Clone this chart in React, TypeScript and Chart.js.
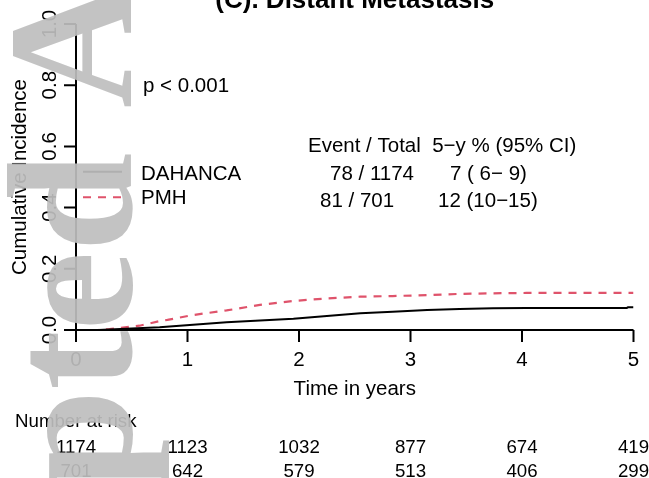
import { useEffect, useRef } from "react";
import { Chart, registerables } from "chart.js";

Chart.register(...registerables);

// Cumulative incidence of distant metastasis (years since treatment)
const dahancaTime = [0, 0.2, 0.3, 0.75, 1.05, 1.35, 1.65, 1.95, 2.25, 2.55, 2.84, 3.15, 3.44, 3.74, 4.04, 4.4, 4.94, 4.95, 5.0];
const dahancaCif = [0, 0, 0.002, 0.009, 0.017, 0.025, 0.031, 0.037, 0.046, 0.055, 0.06, 0.065, 0.069, 0.071, 0.072, 0.072, 0.072, 0.074, 0.074];
const pmhTime = [0, 0.2, 0.3, 0.57, 0.75, 0.82, 1.05, 1.35, 1.65, 1.95, 2.25, 2.55, 2.84, 3.15, 3.44, 3.74, 4.04, 5.0];
const pmhCif = [0, 0, 0.003, 0.014, 0.029, 0.033, 0.049, 0.064, 0.082, 0.095, 0.103, 0.109, 0.111, 0.114, 0.118, 0.12, 0.121, 0.121];

const xTicks = [0, 1, 2, 3, 4, 5];
const yTicks = [0, 0.2, 0.4, 0.6, 0.8, 1.0];
const yTickLabels = ["0.0", "0.2", "0.4", "0.6", "0.8", "1.0"];

const groups = ["DAHANCA", "PMH"];
const eventsTotal = ["78 / 1174", "81 / 701"];
const fiveYear = ["7 ( 6\u2212 9)", "12 (10\u221215)"];
const riskDahanca = [1174, 1123, 1032, 877, 674, 419];
const riskPmh = [701, 642, 579, 513, 406, 299];

const RED = "#DF536B";
const SANS = "'Liberation Sans', Arial, Helvetica, sans-serif";
const F = 20.5;

const annotations = {
  id: "annotations",
  afterDraw(chart: Chart) {
    const ctx = chart.ctx;
    const xs = chart.scales.x;
    const ys = chart.scales.y;
    const x0 = xs.getPixelForValue(0);
    const x5 = xs.getPixelForValue(5);
    const y0 = ys.getPixelForValue(0);
    const y1 = ys.getPixelForValue(1);
    ctx.save();
    ctx.strokeStyle = "#000";
    ctx.fillStyle = "#000";
    ctx.lineWidth = 2;
    ctx.lineCap = "butt";

    // axes
    ctx.beginPath();
    ctx.moveTo(x0, y0);
    ctx.lineTo(x5, y0);
    ctx.moveTo(x0, y0);
    ctx.lineTo(x0, y1);
    xTicks.forEach((t) => {
      const px = xs.getPixelForValue(t);
      ctx.moveTo(px, y0);
      ctx.lineTo(px, y0 + 12);
    });
    yTicks.forEach((t) => {
      const py = ys.getPixelForValue(t);
      ctx.moveTo(x0, py);
      ctx.lineTo(x0 - 12, py);
    });
    ctx.stroke();

    ctx.font = `${F}px ${SANS}`;
    ctx.textAlign = "center";
    ctx.textBaseline = "alphabetic";
    xTicks.forEach((t) => {
      ctx.fillText(String(t), xs.getPixelForValue(t), 366);
    });
    yTicks.forEach((t, i) => {
      ctx.save();
      ctx.translate(55.5, ys.getPixelForValue(t));
      ctx.rotate(-Math.PI / 2);
      ctx.fillText(yTickLabels[i], 0, 0);
      ctx.restore();
    });
    ctx.save();
    ctx.translate(25.5, (y0 + y1) / 2);
    ctx.rotate(-Math.PI / 2);
    ctx.fillText("Cumulative Incidence", 0, 0);
    ctx.restore();
    ctx.fillText("Time in years", (x0 + x5) / 2, 395);

    // title
    ctx.font = `bold 26px ${SANS}`;
    ctx.fillText("(C). Distant Metastasis", (x0 + x5) / 2, 7.5);

    // p-value, legend and summary table
    ctx.font = `${F}px ${SANS}`;
    ctx.textAlign = "left";
    ctx.fillText("p < 0.001", 143, 91.7);
    ctx.fillText(groups[0], 141, 180);
    ctx.fillText(groups[1], 141, 204.3);
    ctx.beginPath();
    ctx.moveTo(83, 171.7);
    ctx.lineTo(122, 171.7);
    ctx.stroke();
    ctx.save();
    ctx.strokeStyle = RED;
    ctx.setLineDash([8, 7]);
    ctx.beginPath();
    ctx.moveTo(83, 197.3);
    ctx.lineTo(122, 197.3);
    ctx.stroke();
    ctx.restore();

    ctx.fillText("Event / Total  5\u2212y % (95% CI)", 308, 152.3);
    ctx.fillText(eventsTotal[0], 330, 180);
    ctx.fillText(fiveYear[0], 450, 180);
    ctx.fillText(eventsTotal[1], 320, 206.7);
    ctx.fillText(fiveYear[1], 438, 206.7);

    // numbers at risk
    ctx.font = `18.7px ${SANS}`;
    ctx.fillText("Number at risk", 15, 427);
    ctx.textAlign = "center";
    xTicks.forEach((t, i) => {
      const px = xs.getPixelForValue(t);
      ctx.fillText(String(riskDahanca[i]), px, 453);
      ctx.fillText(String(riskPmh[i]), px, 477);
    });

    // page watermark
    ctx.font = "bold 178px 'Liberation Serif', 'Times New Roman', serif";
    ctx.textAlign = "left";
    ctx.fillStyle = "rgba(190,190,190,0.92)";
    ctx.filter = "blur(0.7px)";
    const lead = ctx.measureText("Accepted ").width;
    ctx.translate(131, 108 + lead);
    ctx.rotate(-Math.PI / 2);
    ctx.fillText("Accepted Article", 0, 0);
    ctx.restore();
  },
};

export default function App() {
  const ref = useRef<HTMLCanvasElement>(null);
  useEffect(() => {
    document.body.style.margin = "0";
    const canvas = ref.current!;
    const chart = new Chart(canvas, {
      type: "line",
      data: {
        datasets: [
          {
            label: groups[0],
            data: dahancaTime.map((t, i) => ({ x: t, y: dahancaCif[i] })),
            borderColor: "#000",
            borderWidth: 2,
            pointRadius: 0,
            tension: 0,
          },
          {
            label: groups[1],
            data: pmhTime.map((t, i) => ({ x: t, y: pmhCif[i] })),
            borderColor: RED,
            borderWidth: 2.2,
            borderDash: [8, 7],
            pointRadius: 0,
            tension: 0,
          },
        ],
      },
      options: {
        responsive: false,
        animation: false,
        devicePixelRatio: 1,
        layout: { padding: { left: 76, right: 15.5, top: 24, bottom: 148 } },
        scales: {
          x: { type: "linear", min: 0, max: 5, display: false },
          y: { type: "linear", min: 0, max: 1, display: false },
        },
        plugins: {
          legend: { display: false },
          tooltip: { enabled: false },
          title: { display: false },
        },
      },
      plugins: [annotations],
    });
    return () => chart.destroy();
  }, []);
  return (
    <div style={{ width: 649, height: 478, background: "#fff" }}>
      <canvas ref={ref} width={649} height={478} style={{ display: "block" }} />
    </div>
  );
}
